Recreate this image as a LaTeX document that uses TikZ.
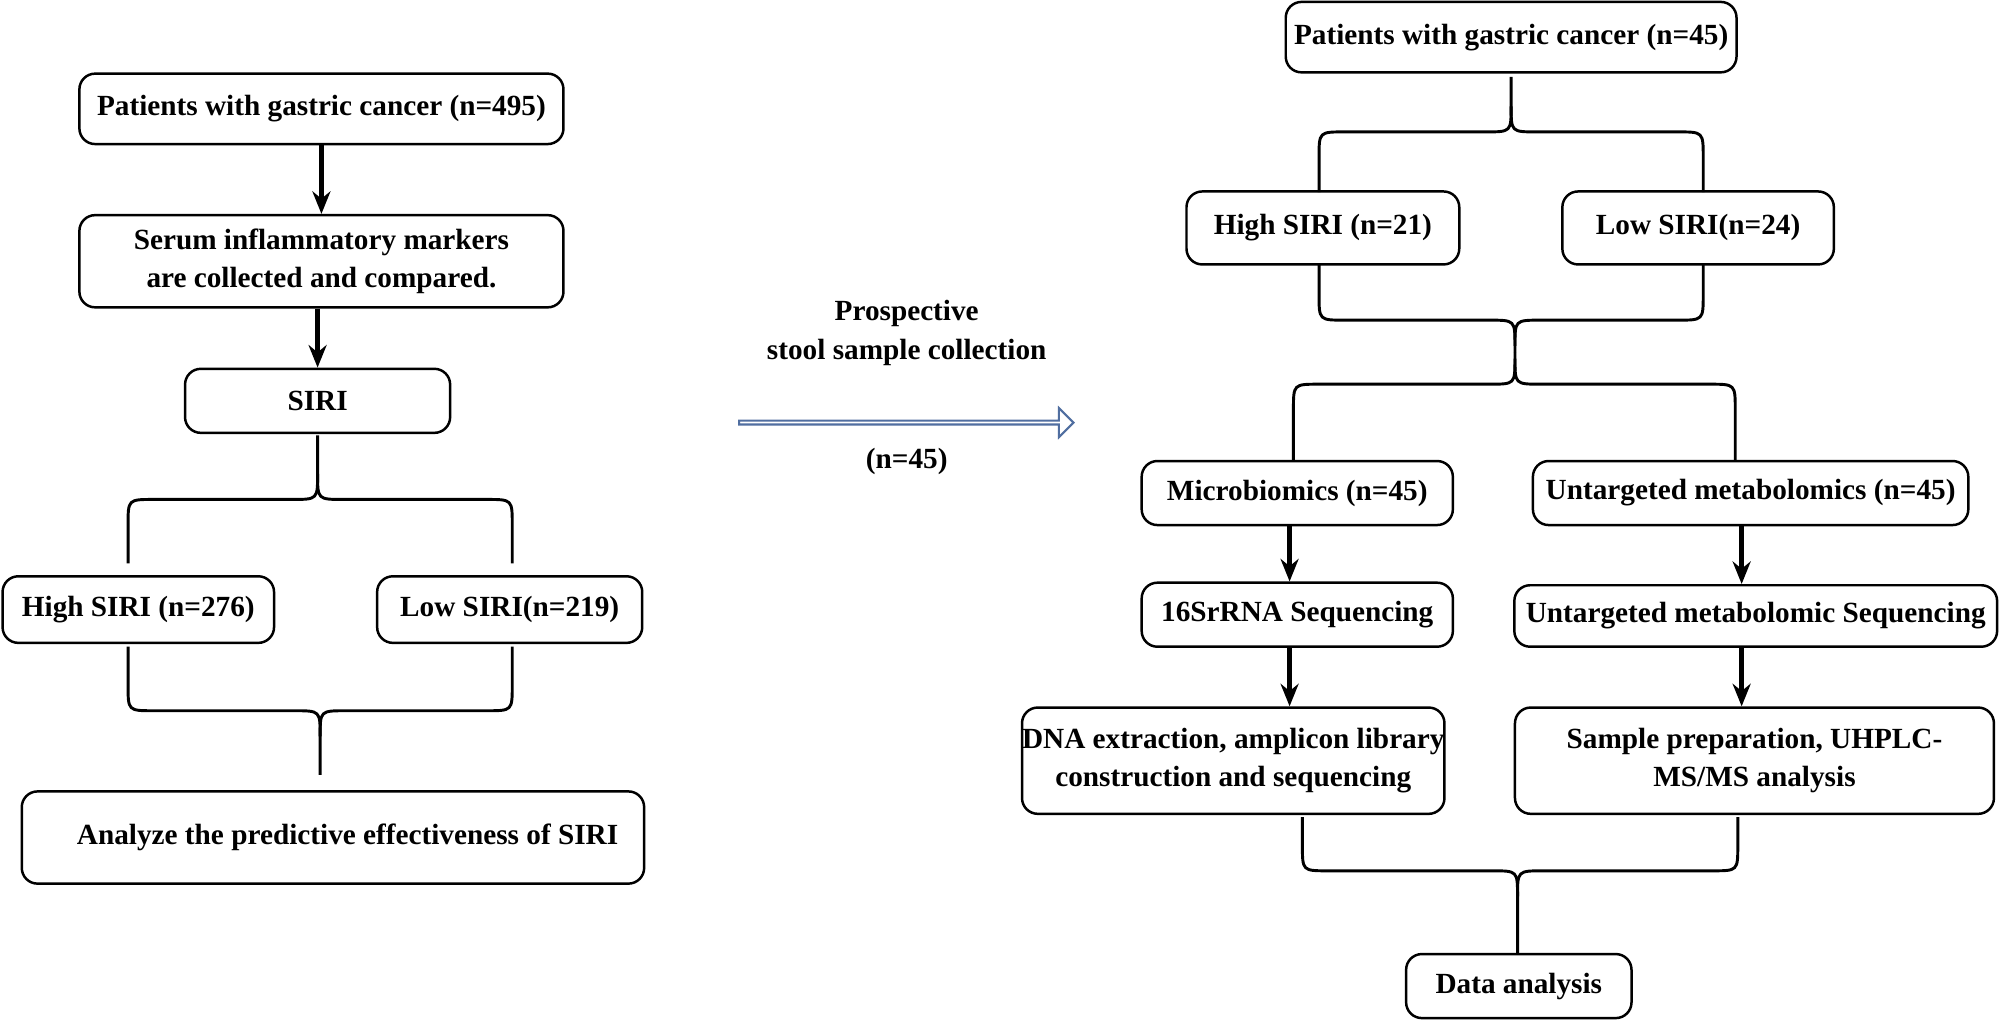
\documentclass[tikz,border=0pt]{standalone}
\usepackage{fontspec}
\setmainfont{Liberation Serif}
\usetikzlibrary{arrows.meta,shapes.arrows}
\definecolor{arrblue}{RGB}{80,110,160}
\def\rr{20}
\newcommand\bracedn[6]{% xl xr xc ytop yh ycusp  (cusp down)
 \draw[brc] (#1,#4) -- ({#1},{#5-\rr}) .. controls (#1,#5) .. ({#1+\rr},#5) -- ({#3-\rr},#5) .. controls (#3,#5) .. (#3,{#5+\rr}) -- (#3,#6);
 \draw[brc] (#2,#4) -- ({#2},{#5-\rr}) .. controls (#2,#5) .. ({#2-\rr},#5) -- ({#3+\rr},#5) .. controls (#3,#5) .. (#3,{#5+\rr});}
\newcommand\braceup[6]{% xl xr xc ybot yh ycusp (cusp up)
 \draw[brc] (#1,#4) -- ({#1},{#5+\rr}) .. controls (#1,#5) .. ({#1+\rr},#5) -- ({#3-\rr},#5) .. controls (#3,#5) .. (#3,{#5-\rr}) -- (#3,#6);
 \draw[brc] (#2,#4) -- ({#2},{#5+\rr}) .. controls (#2,#5) .. ({#2-\rr},#5) -- ({#3+\rr},#5) .. controls (#3,#5) .. (#3,{#5-\rr});}
\begin{document}
\begin{tikzpicture}[x=0.02cm,y=-0.02cm,
  box/.style={draw,line width=1.1pt,rounded corners=7pt,align=center,font=\fontsize{13}{17}\selectfont\bfseries,inner sep=0pt},
  brc/.style={line width=1.3pt},
  arr/.style={line width=2pt,-{Stealth[length=10pt,width=8pt]}},
  lbl/.style={font=\fontsize{13}{17}\selectfont\bfseries}]
\useasboundingbox (0,0) rectangle (1568,797);
\fill[white] (0,0) rectangle (1568,797);
% left
\node[box,minimum width=378*0.02cm,minimum height=55*0.02cm] (p495) at (251,85) {Patients with gastric cancer (n=495)};
\node[box,minimum width=378*0.02cm,minimum height=72*0.02cm] (serum) at (251,204) {Serum inflammatory markers\\are collected and compared.};
\node[box,minimum width=207*0.02cm,minimum height=50*0.02cm] (siri) at (248,313) {SIRI};
\node[box,minimum width=212*0.02cm,minimum height=52*0.02cm] (hi1) at (108,476) {High SIRI (n=276)};
\node[box,minimum width=207*0.02cm,minimum height=52*0.02cm] (lo1) at (398,476) {Low SIRI(n=219)};
\node[box,minimum width=486*0.02cm,minimum height=72*0.02cm] (anl) at (260,654) {\hspace*{1em}Analyze the predictive effectiveness of SIRI};
\draw[arr] (p495) -- (serum);
\draw[arr] (serum.south -| siri) -- (siri);
\braceup{100}{400}{248}{440}{390}{340}
\bracedn{100}{400}{250}{505}{555}{605}
% middle
\node[lbl] (pr1) at (708,245) {Prospective};
\node[lbl] (pr2) at (708,275) {stool sample collection};
\node[lbl] (pr3) at (708,360) {(n=45)};
\node[single arrow,draw=arrblue,line width=0.9pt,fill=white,minimum height=261*0.02cm,minimum width=13pt,single arrow head extend=3pt,single arrow head indent=0pt,inner sep=0pt,shape border rotate=0,single arrow tip angle=90] (bigarr) at (707,330) {};
% right
\node[box,minimum width=352*0.02cm,minimum height=55*0.02cm] (p45) at (1180,29) {Patients with gastric cancer (n=45)};
\node[box,minimum width=213*0.02cm,minimum height=57*0.02cm] (hi2) at (1033,178) {High SIRI (n=21)};
\node[box,minimum width=212*0.02cm,minimum height=57*0.02cm] (lo2) at (1326,178) {Low SIRI(n=24)};
\node[box,minimum width=243*0.02cm,minimum height=50*0.02cm] (mic) at (1013,385) {Microbiomics (n=45)};
\node[box,minimum width=340*0.02cm,minimum height=50*0.02cm] (unt) at (1367,385) {Untargeted metabolomics (n=45)};
\node[box,minimum width=243*0.02cm,minimum height=50*0.02cm] (s16) at (1013,480) {16SrRNA Sequencing};
\node[box,minimum width=377*0.02cm,minimum height=48*0.02cm] (ums) at (1371,481) {Untargeted metabolomic Sequencing};
\node[box,minimum width=327*0.02cm,minimum height=83*0.02cm] (dna) at (963,594) {DNA extraction, amplicon library\\construction and sequencing};
\node[box,minimum width=374*0.02cm,minimum height=83*0.02cm] (smp) at (1370,594) {Sample preparation, UHPLC-\\MS/MS analysis};
\node[box,minimum width=176*0.02cm,minimum height=50*0.02cm] (dat) at (1186,770) {Data analysis};
\coordinate (a1) at (1007,410); \coordinate (a2) at (1360,410);
\draw[arr] (a1) -- (a1 |- s16.north);
\draw[arr] (a2) -- (a2 |- ums.north);
\draw[arr] (a1 |- s16.south) -- (a1 |- dna.north);
\draw[arr] (a2 |- ums.south) -- (a2 |- smp.north);
\braceup{1030}{1330}{1180}{150}{103}{60}
\bracedn{1030}{1330}{1183}{207}{250}{275}
\braceup{1010}{1355}{1183}{360}{300}{275}
\bracedn{1017}{1357}{1185}{638}{680}{745}
\end{tikzpicture}
\end{document}
